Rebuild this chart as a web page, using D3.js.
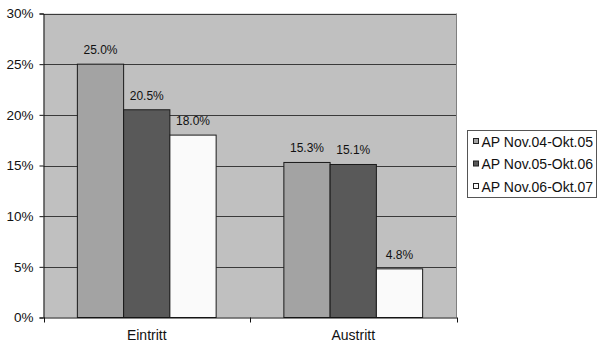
<!DOCTYPE html>
<html><head><meta charset="utf-8">
<script src="https://cdn.jsdelivr.net/npm/d3@7"></script>
<style>
html,body{margin:0;padding:0;background:#fff;}
svg{display:block;font-family:"Liberation Sans",Arial,sans-serif;}
</style></head>
<body><svg id="c" width="597" height="346"></svg>
<script>
const categories = ["Eintritt", "Austritt"];
const seriesNames = ["AP Nov.04-Okt.05", "AP Nov.05-Okt.06", "AP Nov.06-Okt.07"];
const seriesValues = [
  [0.250, 0.153],
  [0.205, 0.151],
  [0.180, 0.048]
];
const seriesColors = ["#a3a3a3", "#595959", "#fafafa"];
const yTicks = [0, 0.05, 0.10, 0.15, 0.20, 0.25, 0.30];

const svg = d3.select("#c");
const L = 43.5, R = 456.5, T = 13.5, B = 317.5;

const x0 = d3.scaleBand().domain(categories).range([L, R]).padding(0);
const groupW = x0.bandwidth() * 0.672;
const x1 = d3.scaleBand().domain(seriesNames.map((d, i) => i)).range([0, groupW]).padding(0);
const y = d3.scaleLinear().domain([0, 0.3]).range([B, T]);

// plot background
svg.append("rect").attr("x", L).attr("y", T).attr("width", R - L).attr("height", B - T)
  .attr("fill", "#c0c0c0");

// gridlines
svg.append("g").selectAll("line").data(yTicks.filter(d => d > 0)).join("line")
  .attr("x1", L).attr("x2", R)
  .attr("y1", d => Math.round(y(d)) + 0.5).attr("y2", d => Math.round(y(d)) + 0.5)
  .attr("stroke", "#3a3a3a").attr("stroke-width", 1);

// right border of plot
svg.append("line").attr("x1", R).attr("x2", R).attr("y1", T).attr("y2", B)
  .attr("stroke", "#808080").attr("stroke-width", 1);

// bars
const data = [];
categories.forEach((c, ci) => {
  seriesNames.forEach((s, si) => data.push({ c, si, v: seriesValues[si][ci] }));
});
const bars = svg.append("g");
bars.selectAll("rect").data(data).join("rect")
  .attr("x", d => x0(d.c) + (x0.bandwidth() - groupW) / 2 + x1(d.si))
  .attr("width", x1.bandwidth())
  .attr("y", d => y(d.v))
  .attr("height", d => B - y(d.v))
  .attr("fill", d => seriesColors[d.si])
  .attr("stroke", "#1a1a1a").attr("stroke-width", 1);

// value labels
svg.append("g").selectAll("text").data(data).join("text")
  .attr("x", d => x0(d.c) + (x0.bandwidth() - groupW) / 2 + x1(d.si) + x1.bandwidth() / 2)
  .attr("y", d => y(d.v) - 10)
  .attr("text-anchor", "middle")
  .attr("font-size", 12).attr("fill", "#111")
  .text(d => (d.v * 100).toFixed(1) + "%");

// y axis
const yAxis = d3.axisLeft(y).tickValues(yTicks).tickFormat(d3.format(".0%")).tickSize(4).tickPadding(6);
const gy = svg.append("g").attr("transform", `translate(${L},0)`).call(yAxis);
gy.select(".domain").attr("stroke", "#111");
gy.selectAll(".tick line").attr("stroke", "#111");
gy.selectAll("text").attr("font-size", 13.5).attr("fill", "#111")
  .attr("font-family", "Liberation Sans, Arial, sans-serif");

// x axis
const xAxis = d3.axisBottom(x0).tickSize(0).tickPadding(13);
const gx = svg.append("g").attr("transform", `translate(0,${B})`).call(xAxis);
gx.select(".domain").attr("stroke", "#111");
gx.selectAll("text").attr("font-size", 14).attr("fill", "#111")
  .attr("font-family", "Liberation Sans, Arial, sans-serif");
// category separator ticks
const sepTicks = [L, x0(categories[1]), R];
svg.append("g").selectAll("line").data(sepTicks).join("line")
  .attr("x1", d => Math.round(d) + 0.5).attr("x2", d => Math.round(d) + 0.5)
  .attr("y1", B).attr("y2", B + 5).attr("stroke", "#111");

// legend
const lg = svg.append("g");
lg.append("rect").attr("x", 467.5).attr("y", 130.5).attr("width", 129).attr("height", 67)
  .attr("fill", "#fff").attr("stroke", "#555");
const ly = d3.scalePoint().domain(seriesNames).range([141.5, 186.5]);
const items = lg.selectAll("g.it").data(seriesNames).join("g").attr("class", "it")
  .attr("transform", d => `translate(0,${ly(d)})`);
items.append("rect").attr("x", 473.5).attr("y", -3).attr("width", 5).attr("height", 5)
  .attr("fill", (d, i) => seriesColors[i]).attr("stroke", "#222");
items.append("text").attr("x", 481.5).attr("y", 0).attr("dy", "0.36em")
  .attr("font-size", 14).attr("fill", "#111").text(d => d);
</script></body></html>
